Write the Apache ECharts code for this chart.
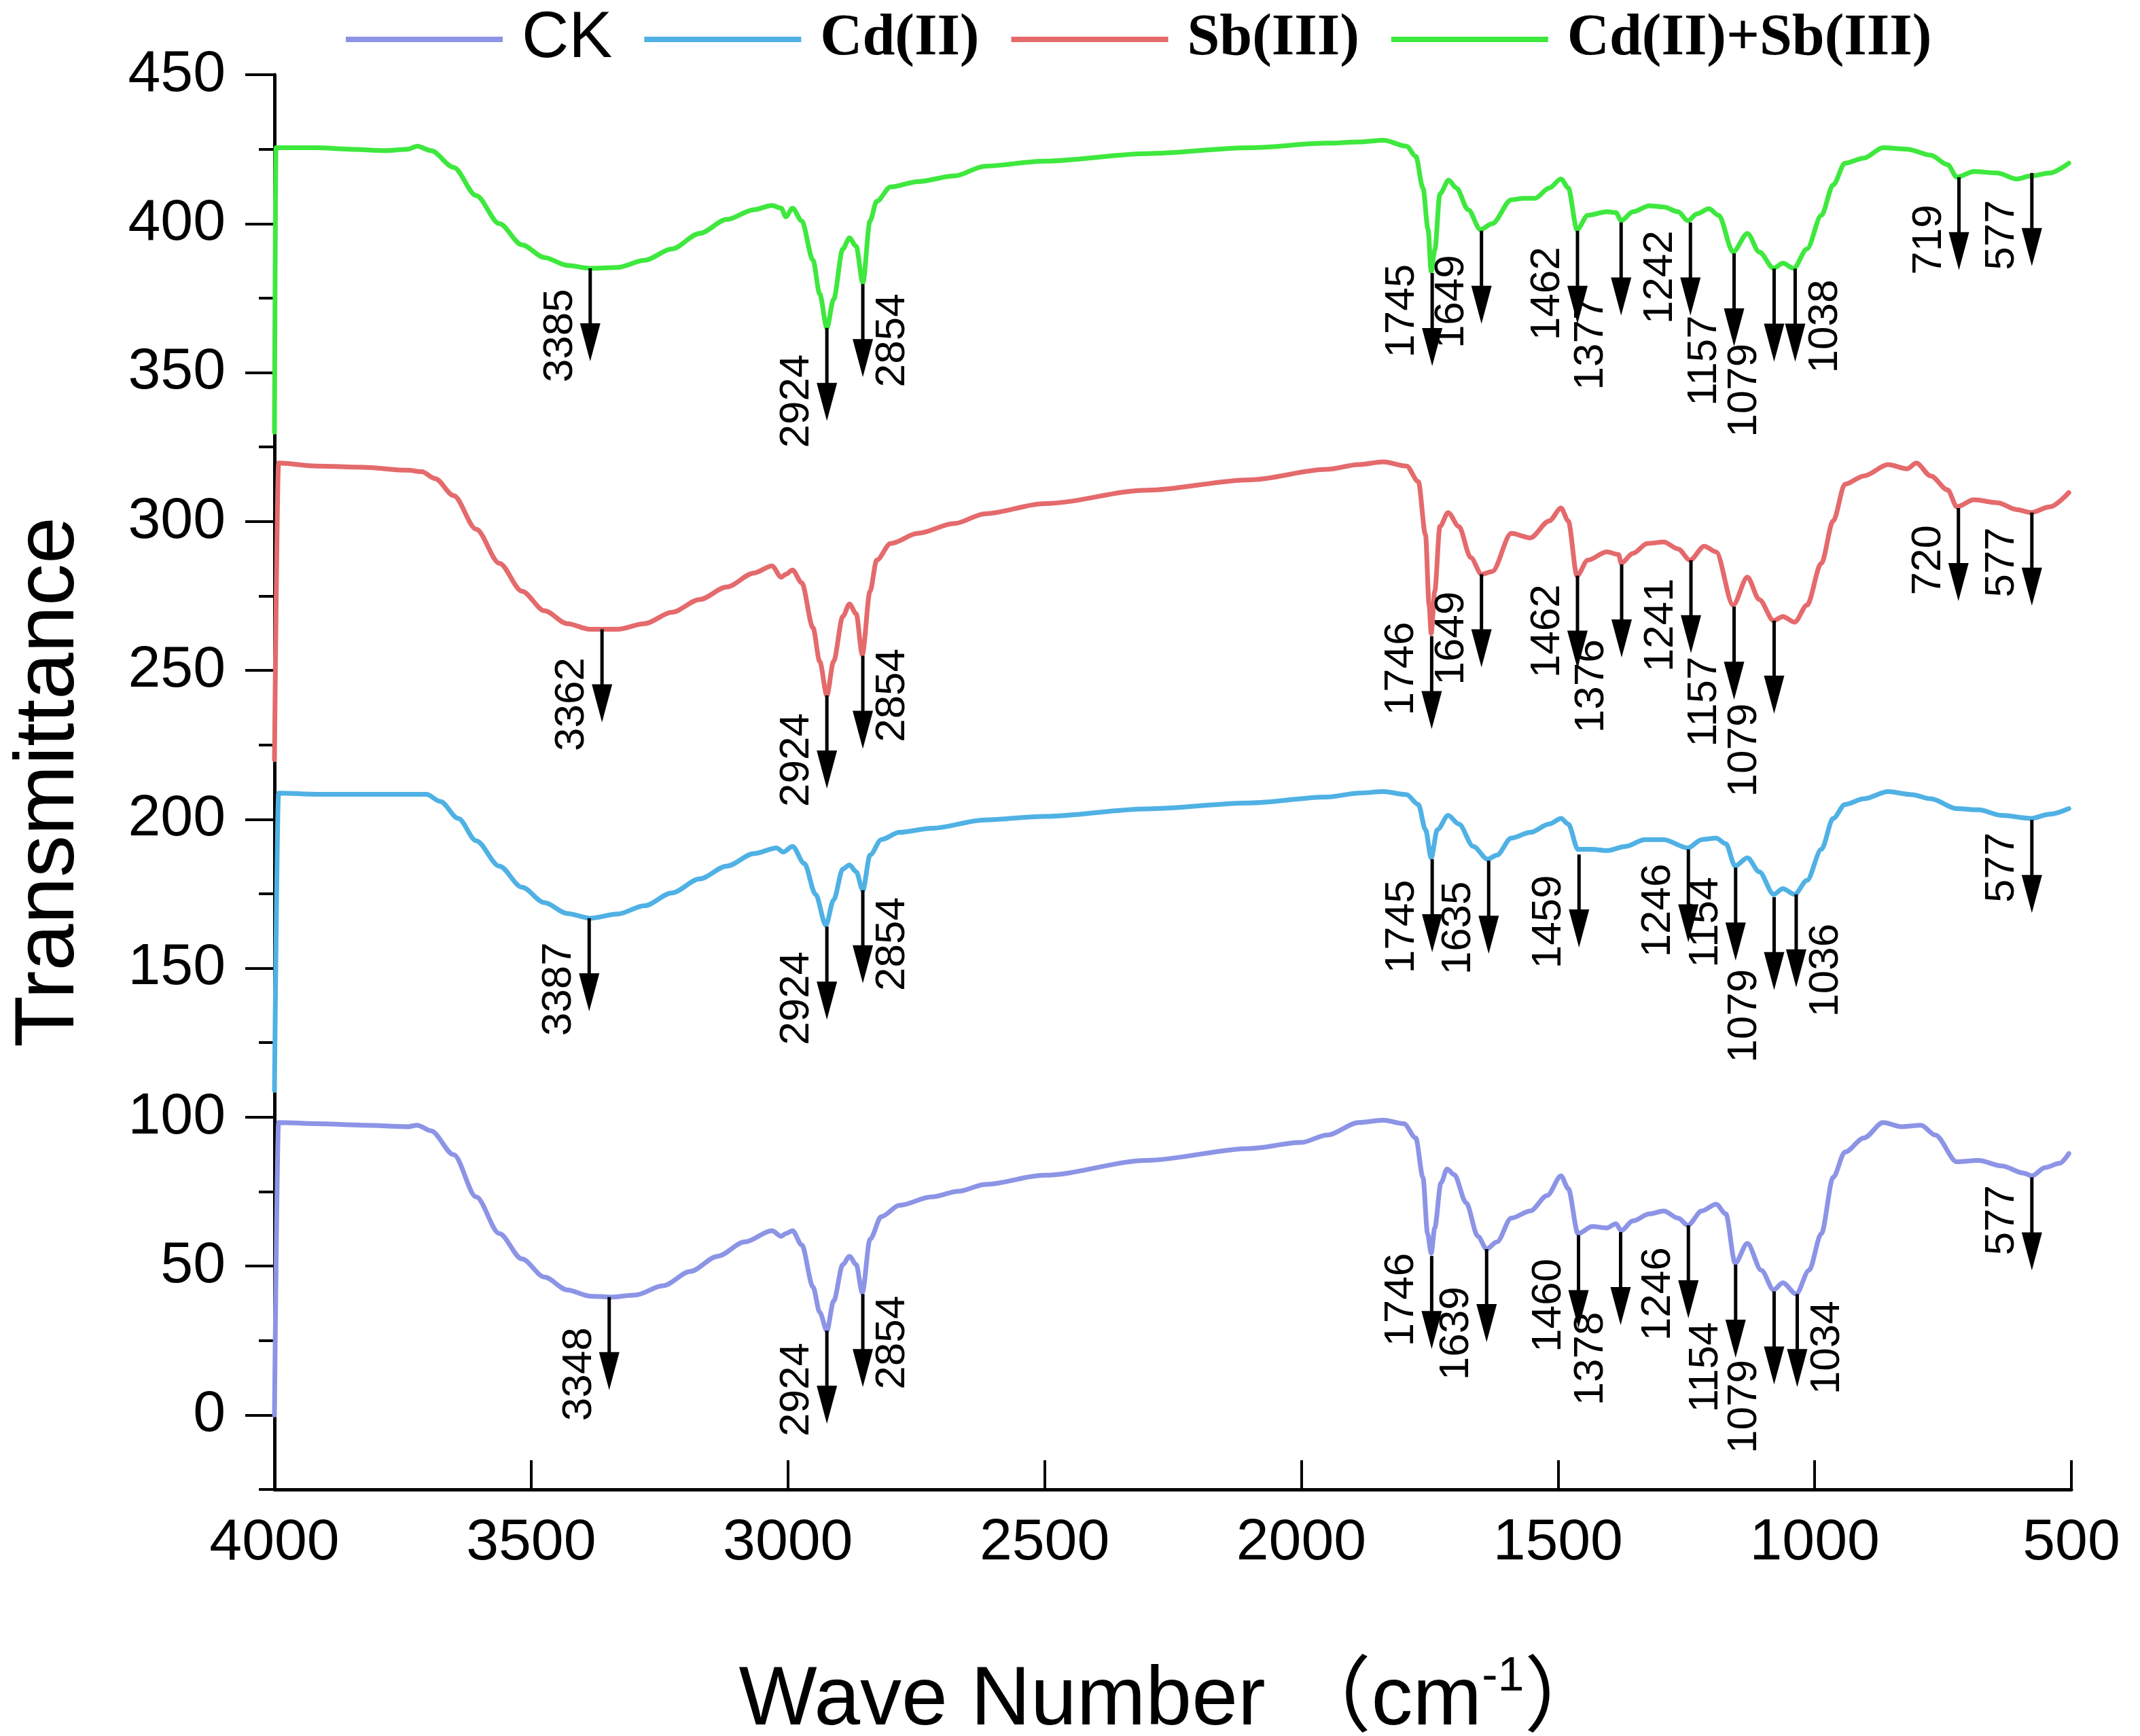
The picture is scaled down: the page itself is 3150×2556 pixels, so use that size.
<!DOCTYPE html>
<html>
<head>
<meta charset="utf-8">
<title>FTIR spectra</title>
<script src="https://cdn.jsdelivr.net/npm/echarts@6/dist/echarts.min.js"></script>
<style>
  html, body { margin: 0; padding: 0; background: #fff; }
  #chart { width: 3150px; height: 2556px; }
</style>
</head>
<body>
<div id="chart"></div>
<script>
// series names (legend order)
const seriesNames = ['CK', 'Cd(II)', 'Sb(III)', 'Cd(II)+Sb(III)'];

// axis ranges / ticks
const xTicks = [500, 4000, 500];          // min, max, interval (wave number)
const yTicks = [-25, 450, 25];            // min, max, interval (transmittance)
const yMajorTicks = [0, 50, 100, 150, 200, 250, 300, 350, 400, 450];

// spectra: [wave number, transmittance]
const ck = [
  [4000, 0], [3992, 98.2], [3917, 97.8], [3828, 97.3], [3740, 96.8], [3722, 97.3], [3695, 95.4],
  [3651, 87.4], [3607, 73.2], [3562, 60.9], [3518, 52.4], [3474, 46.3], [3430, 42], [3385, 39.9],
  [3345, 39.6], [3297, 40.3], [3243, 43.4], [3190, 48.2], [3137, 53.3], [3084, 58.1], [3031, 61.9],
  [3013, 60], [3004, 60.9], [2991, 61.9], [2973, 57.1], [2951, 43], [2938, 34.5], [2924, 28.3],
  [2911, 38.2], [2893, 50.5], [2880, 53.3], [2867, 50.5], [2855, 41.1], [2840, 59], [2818, 66.6],
  [2783, 70.4], [2720, 73.2], [2668, 75.1], [2616, 77.4], [2500, 80.5], [2300, 85.5], [2100, 89.5],
  [2000, 91.5], [1950, 94], [1888, 98.2], [1840, 99], [1800, 97.8], [1777, 93], [1763, 79.8],
  [1754, 60.9], [1747, 54.3], [1740, 62.8], [1728, 77.9], [1716, 82.6], [1702, 80.7], [1679, 71.3],
  [1656, 60], [1639, 55.7], [1619, 58.1], [1591, 66.1], [1554, 68.5], [1521, 73.7], [1494, 80.3],
  [1480, 76], [1461, 60.9], [1433, 63.3], [1405, 62.8], [1387, 64.2], [1377, 61.9], [1354, 65.2],
  [1322, 67.5], [1294, 68.5], [1266, 66.1], [1247, 63.7], [1220, 68.5], [1192, 70.8], [1173, 67.5],
  [1155, 51], [1131, 57.6], [1104, 48.6], [1080, 42], [1062, 44.4], [1036, 40.6], [1011, 48.6],
  [987, 60.9], [964, 79.8], [941, 88.3], [904, 93], [867, 98.2], [830, 96.8], [793, 97.3],
  [765, 94], [723, 85], [681, 85.5], [635, 83.6], [593, 81.2], [577, 80.3], [551, 83.1],
  [523, 84.5], [505, 87.8]
];

const cd = [
  [4000, 109], [3992, 208.8], [3917, 208.4], [3828, 208.4], [3740, 208.4], [3704, 208.4], [3677, 206],
  [3642, 200.3], [3607, 192.8], [3562, 184.3], [3518, 177.2], [3474, 172], [3430, 168.4], [3385, 166.8],
  [3332, 168.2], [3279, 171], [3226, 175.3], [3172, 180], [3119, 184.3], [3066, 188.5], [3022, 190.4],
  [3009, 189], [2991, 190.9], [2968, 185.2], [2946, 174.8], [2926, 164.4], [2911, 172.9], [2893, 183.3],
  [2880, 184.7], [2867, 182.4], [2854, 176.2], [2840, 188], [2818, 193.2], [2783, 195.6], [2720, 197],
  [2616, 199.8], [2500, 201], [2300, 203.5], [2100, 205.5], [1950, 207.5], [1888, 208.8], [1840, 209.3],
  [1795, 208.3], [1772, 205], [1758, 196.5], [1747, 187.1], [1735, 196.5], [1714, 201.3], [1693, 198.4],
  [1665, 190.9], [1637, 186.6], [1619, 188], [1591, 193.7], [1554, 195.6], [1517, 198.4], [1494, 200.3],
  [1480, 198.4], [1461, 189.9], [1433, 189.9], [1405, 189.5], [1368, 190.9], [1331, 193.2], [1294, 193.2],
  [1247, 190.4], [1220, 193.2], [1192, 193.7], [1173, 191.8], [1155, 184.3], [1131, 187.1], [1108, 182.4],
  [1080, 174.8], [1062, 176.7], [1039, 174.8], [1015, 179.5], [987, 189.9], [964, 200.3], [941, 205],
  [904, 206.9], [857, 209.3], [811, 208.3], [774, 206.9], [723, 203.6], [681, 203.2], [635, 201.3],
  [579, 200.3], [542, 201.7], [505, 203.6]
];

const sb = [
  [4000, 220], [3992, 319.6], [3917, 318.6], [3828, 318.2], [3740, 317.2], [3713, 316.7], [3687, 314.4],
  [3651, 308.7], [3607, 297.4], [3562, 286], [3518, 276.6], [3474, 270], [3430, 265.7], [3385, 263.8],
  [3332, 263.8], [3279, 265.7], [3226, 269.5], [3172, 273.8], [3119, 278], [3066, 282.7], [3031, 285.1],
  [3013, 281.3], [3004, 282.3], [2991, 283.7], [2973, 279.4], [2951, 264.3], [2938, 253], [2924, 241.6],
  [2911, 253], [2893, 268.1], [2880, 272.3], [2867, 269], [2855, 255.3], [2840, 276.6], [2827, 287],
  [2800, 292.6], [2747, 296], [2676, 299.3], [2616, 302.6], [2500, 306], [2300, 310.5], [2100, 314],
  [1950, 317.5], [1888, 319.1], [1840, 320], [1795, 318.6], [1772, 313.4], [1758, 295.5], [1751, 271.9],
  [1747, 262.4], [1740, 276.6], [1730, 298.3], [1714, 303], [1693, 298.3], [1670, 287.9], [1649, 282.3],
  [1628, 283.2], [1591, 296], [1554, 294.5], [1517, 300.2], [1494, 304.5], [1480, 300.2], [1463, 281.8],
  [1442, 287], [1405, 289.8], [1382, 288.9], [1377, 286], [1354, 289.3], [1326, 292.6], [1294, 293.1],
  [1266, 290.8], [1243, 287], [1215, 291.7], [1192, 289.8], [1159, 271.9], [1131, 281.3], [1108, 273.8],
  [1080, 266.7], [1062, 268.1], [1039, 266.2], [1015, 271.9], [987, 286], [964, 300.2], [941, 312.5],
  [904, 315.3], [857, 319.1], [820, 317.7], [802, 319.6], [774, 315.3], [741, 310.6], [723, 304.9],
  [690, 307.3], [644, 306.3], [607, 304], [579, 303], [542, 304.9], [505, 309.7]
];

const cdsb = [
  [4000, 330], [3997, 425.5], [3917, 425.5], [3855, 425], [3784, 424.5], [3740, 425], [3722, 426],
  [3695, 424.5], [3651, 418.9], [3607, 409.4], [3562, 400], [3518, 392.9], [3474, 388.6], [3430, 386],
  [3385, 385], [3332, 385.3], [3279, 387.7], [3226, 391.5], [3172, 396.7], [3119, 401.4], [3066, 404.7],
  [3031, 406.1], [3013, 405.2], [3004, 402.3], [2991, 405.2], [2973, 400.9], [2951, 387.7], [2938, 376.4],
  [2924, 365], [2911, 374.5], [2893, 391.5], [2880, 395.2], [2867, 392.4], [2854, 380.1], [2840, 400.9],
  [2827, 407.5], [2800, 412.3], [2747, 414.1], [2676, 416], [2616, 419.3], [2500, 421], [2300, 423.5],
  [2100, 425.5], [1950, 427], [1888, 427.4], [1840, 428], [1795, 426], [1777, 422.6], [1763, 412],
  [1753, 398], [1747, 384], [1740, 391], [1730, 410], [1713, 414.6], [1698, 412], [1675, 404.7],
  [1651, 398], [1628, 400], [1591, 408], [1568, 408.5], [1545, 408.5], [1517, 412], [1494, 415],
  [1480, 412], [1463, 398], [1442, 402.8], [1405, 404], [1387, 403.7], [1377, 401], [1354, 404],
  [1322, 406], [1294, 405.6], [1266, 404], [1247, 401], [1229, 403.3], [1206, 405], [1187, 402.8],
  [1159, 390.5], [1131, 396.7], [1108, 390.5], [1080, 385], [1062, 386.7], [1041, 385], [1015, 391.5],
  [987, 402.8], [964, 413], [941, 420.3], [904, 422], [867, 425.5], [820, 425], [774, 423],
  [741, 419.8], [723, 415.6], [690, 417.5], [644, 417], [607, 415], [579, 416], [542, 417], [505, 420.3]
];

// peak marks: [label, wave number, transmittance at arrow start, label centre, side (-1 left / 1 right)]
const peaksCK = [
  ['3348', 3348, 39.6, 13.7, -1], ['2924', 2924, 28.3, 8.5, -1], ['2854', 2854, 40.6, 24.3, 1],
  ['1746', 1746, 53.4, 38.7, -1], ['1639', 1639, 55.7, 27.4, -1], ['1460', 1460, 60.4, 36.8, -1],
  ['1378', 1378, 61.4, 18.9, -1], ['1246', 1246, 63.7, 40.6, -1], ['1154', 1154, 50.5, 16, -1],
  ['1079', 1079, 41.5, 2.8, -1], ['1034', 1034, 40.6, 22.6, 1], ['577', 577, 79.8, 65.4, -1]
];
const peaksCd = [
  ['3387', 3387, 166.8, 143, -1], ['2924', 2924, 164, 139.9, -1], ['2854', 2854, 176.2, 158.1, 1],
  ['1745', 1745, 186.6, 164, -1], ['1635', 1635, 186.1, 163.5, -1], ['1459', 1459, 188.2, 165.6, -1],
  ['1246', 1246, 189.9, 169.4, -1], ['1154', 1154, 183.8, 165.4, -1], ['1079', 1079, 173.9, 134, -1],
  ['1036', 1036, 174.8, 149.3, 1], ['577', 577, 199.8, 183.8, -1]
];
const peaksSb = [
  ['3362', 3362, 263.8, 238.6, -1], ['2924', 2924, 241.6, 219.9, -1], ['2854', 2854, 254.9, 241.6, 1],
  ['1746', 1746, 261.5, 250.6, -1], ['1649', 1649, 282.3, 260.8, -1], ['1462', 1462, 281.8, 263.2, -1],
  ['1376', 1376, 285.6, 244.7, -1], ['1241', 1241, 287, 265.2, -1], ['1157', 1157, 271.4, 239.5, -1],
  ['1079', 1079, 266.7, 223.2, -1], ['720', 720, 304.5, 287, -1], ['577', 577, 303, 286.3, -1]
];
const peaksCdSb = [
  ['3385', 3385, 385, 362.4, -1], ['2924', 2924, 365, 340.4, -1], ['2854', 2854, 379.7, 360.8, 1],
  ['1745', 1745, 383.4, 370.7, -1], ['1649', 1649, 397.6, 373.8, -1], ['1462', 1462, 397.6, 376.5, -1],
  ['1377', 1377, 400.4, 359.8, -1], ['1242', 1242, 400.4, 382, -1], ['1157', 1157, 390, 354, -1],
  ['1079', 1079, 384.9, 344, -1], ['1038', 1038, 384.9, 365.5, 1], ['719', 719, 415.6, 394.6, -1],
  ['577', 577, 417, 396.2, -1]
];

const colors = ['#8c94e6', '#4fb1e4', '#e46a6c', '#3ee83e'];
const spectra = [ck, cd, sb, cdsb];
const peaks = [peaksCK, peaksCd, peaksSb, peaksCdSb];

const SANS = '"Liberation Sans", Arial, "Noto Sans CJK SC", sans-serif';
const SERIF = '"Liberation Serif", "Times New Roman", serif';

// arrow geometry (px)
const ARROW_LEN = 137;
const HEAD_LEN = 56;
const HEAD_HALF = 15;
const LABEL_DX = 44;

function arrowRenderer(list) {
  return function (params, api) {
    const pk = list[params.dataIndex];
    const top = api.coord([pk[1], pk[2]]);
    const mid = api.coord([pk[1], pk[3]]);
    const x = top[0], y = top[1];
    const headY = y + ARROW_LEN - HEAD_LEN;
    return {
      type: 'group',
      children: [
        {
          type: 'line',
          shape: { x1: x, y1: y, x2: x, y2: headY + 4 },
          style: { stroke: '#000', lineWidth: 5 }
        },
        {
          type: 'polygon',
          shape: { points: [[x - HEAD_HALF, headY], [x + HEAD_HALF, headY], [x, y + ARROW_LEN]] },
          style: { fill: '#000' }
        },
        {
          type: 'text',
          x: x + pk[4] * LABEL_DX,
          y: mid[1],
          rotation: Math.PI / 2,
          style: {
            text: pk[0], x: 0, y: 0,
            align: 'center', verticalAlign: 'middle',
            fontSize: 62, fontFamily: SANS, fill: '#000'
          }
        }
      ]
    };
  };
}

const chart = echarts.init(document.getElementById('chart'));

const lineSeries = seriesNames.map(function (name, i) {
  return {
    name: name,
    type: 'line',
    data: spectra[i],
    showSymbol: false,
    symbol: 'none',
    smooth: 0.3,
    smoothMonotone: 'x',
    itemStyle: { color: colors[i] },
    lineStyle: { color: colors[i], width: 7, join: 'round', cap: 'round' },
    z: 2
  };
});

const arrowSeries = peaks.map(function (list) {
  return {
    type: 'custom',
    renderItem: arrowRenderer(list),
    data: list.map(function (p) { return [p[1], p[2], p[3]]; }),
    encode: { x: 0, y: 1 },
    clip: false,
    silent: true,
    z: 5
  };
});

chart.setOption({
  animation: false,
  backgroundColor: '#fff',
  grid: { left: 404, right: 101, top: 110, bottom: 363, containLabel: false, outerBoundsMode: 'none' },
  legend: {
    data: seriesNames,
    top: 5,
    left: 504,
    icon: 'rect',
    itemWidth: 231,
    itemHeight: 8,
    itemGap: 47,
    formatter: function (n) { return n === 'CK' ? '{s|CK}' : '{b|' + n + '}'; },
    textStyle: {
      padding: [0, 0, 0, 23],
      rich: {
        s: { fontFamily: SANS, fontSize: 96, lineHeight: 100, color: '#000' },
        b: { fontFamily: SERIF, fontWeight: 'bold', fontSize: 86, lineHeight: 100, color: '#000' }
      }
    }
  },
  xAxis: {
    type: 'value',
    inverse: true,
    min: xTicks[0],
    max: xTicks[1],
    interval: xTicks[2],
    name: '{a|Wave Number （cm}{s|-1}{a|）}',
    nameLocation: 'middle',
    nameGap: 242,
    nameTextStyle: {
      rich: {
        a: { fontFamily: SANS, fontSize: 122, lineHeight: 130, color: '#000' },
        s: { fontFamily: SANS, fontSize: 70, color: '#000', padding: [0, 0, 70, 0] }
      }
    },
    axisLine: { onZero: false, lineStyle: { color: '#000', width: 5 } },
    axisTick: { inside: true, length: 43, lineStyle: { color: '#000', width: 4 } },
    axisLabel: {
      fontFamily: SANS, fontSize: 86, color: '#000', margin: 36,
      formatter: function (v) { return String(v); }
    },
    splitLine: { show: false }
  },
  yAxis: [
    {
      type: 'value',
      min: yTicks[0],
      max: yTicks[1],
      interval: yTicks[2],
      name: 'Transmittance',
      nameLocation: 'middle',
      nameRotate: 90,
      nameGap: 268,
      nameTextStyle: { fontFamily: SANS, fontSize: 124, color: '#000' },
      axisLine: { onZero: false, lineStyle: { color: '#000', width: 5 } },
      axisTick: { length: 23, lineStyle: { color: '#000', width: 4 } },
      axisLabel: {
        fontFamily: SANS, fontSize: 86, color: '#000', margin: 72,
        formatter: function (v) { return v % 50 === 0 ? String(v) : ''; }
      },
      splitLine: { show: false }
    },
    {
      type: 'value',
      position: 'left',
      min: yTicks[0],
      max: yTicks[1],
      interval: yTicks[2],
      axisLine: { show: false, onZero: false },
      axisTick: { length: 43, customValues: yMajorTicks, lineStyle: { color: '#000', width: 4 } },
      axisLabel: { show: false },
      splitLine: { show: false }
    }
  ],
  series: lineSeries.concat(arrowSeries)
});
</script>
</body>
</html>
